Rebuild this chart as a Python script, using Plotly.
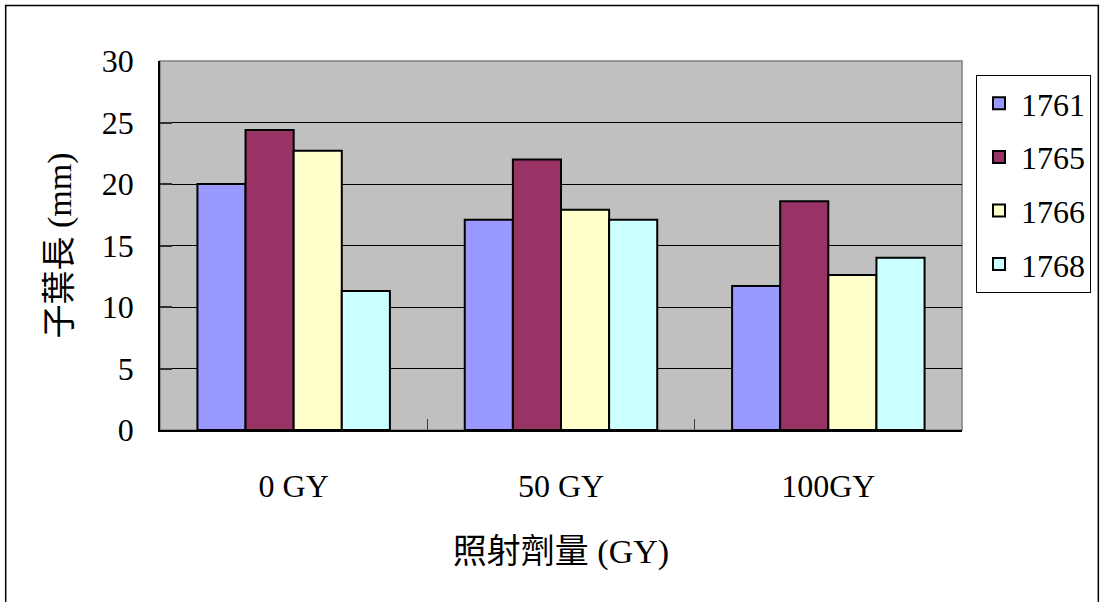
import plotly.graph_objects as go

# Cotyledon length by irradiation dose for four lines
doses = ["0 GY", "50 GY", "100GY"]
line_1761 = [20.0, 17.1, 11.7]
line_1765 = [24.4, 22.0, 18.6]
line_1766 = [22.7, 17.9, 12.6]
line_1768 = [11.3, 17.1, 14.0]

series = [
    ("1761", line_1761, "#9999FF"),
    ("1765", line_1765, "#993366"),
    ("1766", line_1766, "#FFFFCC"),
    ("1768", line_1768, "#CCFFFF"),
]

y_ticks = [0, 5, 10, 15, 20, 25, 30]

FONT = "Liberation Serif, Times New Roman, Noto Sans CJK TC, serif"

fig = go.Figure()
for name, vals, color in series:
    fig.add_trace(go.Bar(
        name=name, x=doses, y=vals,
        marker=dict(color=color, line=dict(color="black", width=2)),
        legendgroup=name,
    ))

W, H = 1102, 602
L, R, T, B = 160, 139, 61, 172
pw, ph = W - L - R, H - T - B

def px_x(x):
    return (x - L) / pw

def px_y(y):
    return (H - B - y) / ph

fig.update_layout(
    width=W, height=H,
    margin=dict(l=L, r=R, t=T, b=B, pad=0),
    paper_bgcolor="white",
    plot_bgcolor="#C0C0C0",
    barmode="group",
    bargap=0.28,
    bargroupgap=0,
    font=dict(family=FONT, size=32, color="black"),
    legend=dict(
        x=px_x(976), y=px_y(75), xanchor="left", yanchor="top",
        bgcolor="white", bordercolor="black", borderwidth=1,
        font=dict(family=FONT, size=32, color="black"),
        tracegroupgap=9,
        itemwidth=34,
    ),
    xaxis=dict(
        type="category",
        showline=True, linecolor="black", linewidth=1.5,
        ticks="inside", ticklen=11, tickcolor="#404040", tickwidth=1,
        tickson="boundaries",
        showgrid=False,
        ticklabelstandoff=27,
        tickfont=dict(family=FONT, size=32),
        title=dict(text="照射劑量 (GY)", font=dict(family=FONT, size=34), standoff=36),
    ),
    yaxis=dict(
        range=[0, 30],
        tickvals=y_ticks,
        showline=True, linecolor="black", linewidth=1.5,
        ticks="inside", ticklen=12, tickcolor="#303030", tickwidth=1.5,
        showgrid=True, gridcolor="black", gridwidth=1,
        zeroline=False,
        ticklabelstandoff=18,
        tickfont=dict(family=FONT, size=32),
        title=dict(text="子葉長 (mm)", font=dict(family=FONT, size=34), standoff=20),
    ),
    shapes=[
        # plot-area border
        dict(type="rect", xref="paper", yref="paper", x0=0, x1=1, y0=0, y1=1,
             line=dict(color="#808080", width=1.5), layer="below"),
        # chart-area border
        dict(type="rect", xref="paper", yref="paper",
             x0=px_x(5.5), x1=px_x(1099.5), y0=px_y(610), y1=px_y(5.5),
             line=dict(color="black", width=1.5)),
    ],
)

fig.write_html("out.html")
